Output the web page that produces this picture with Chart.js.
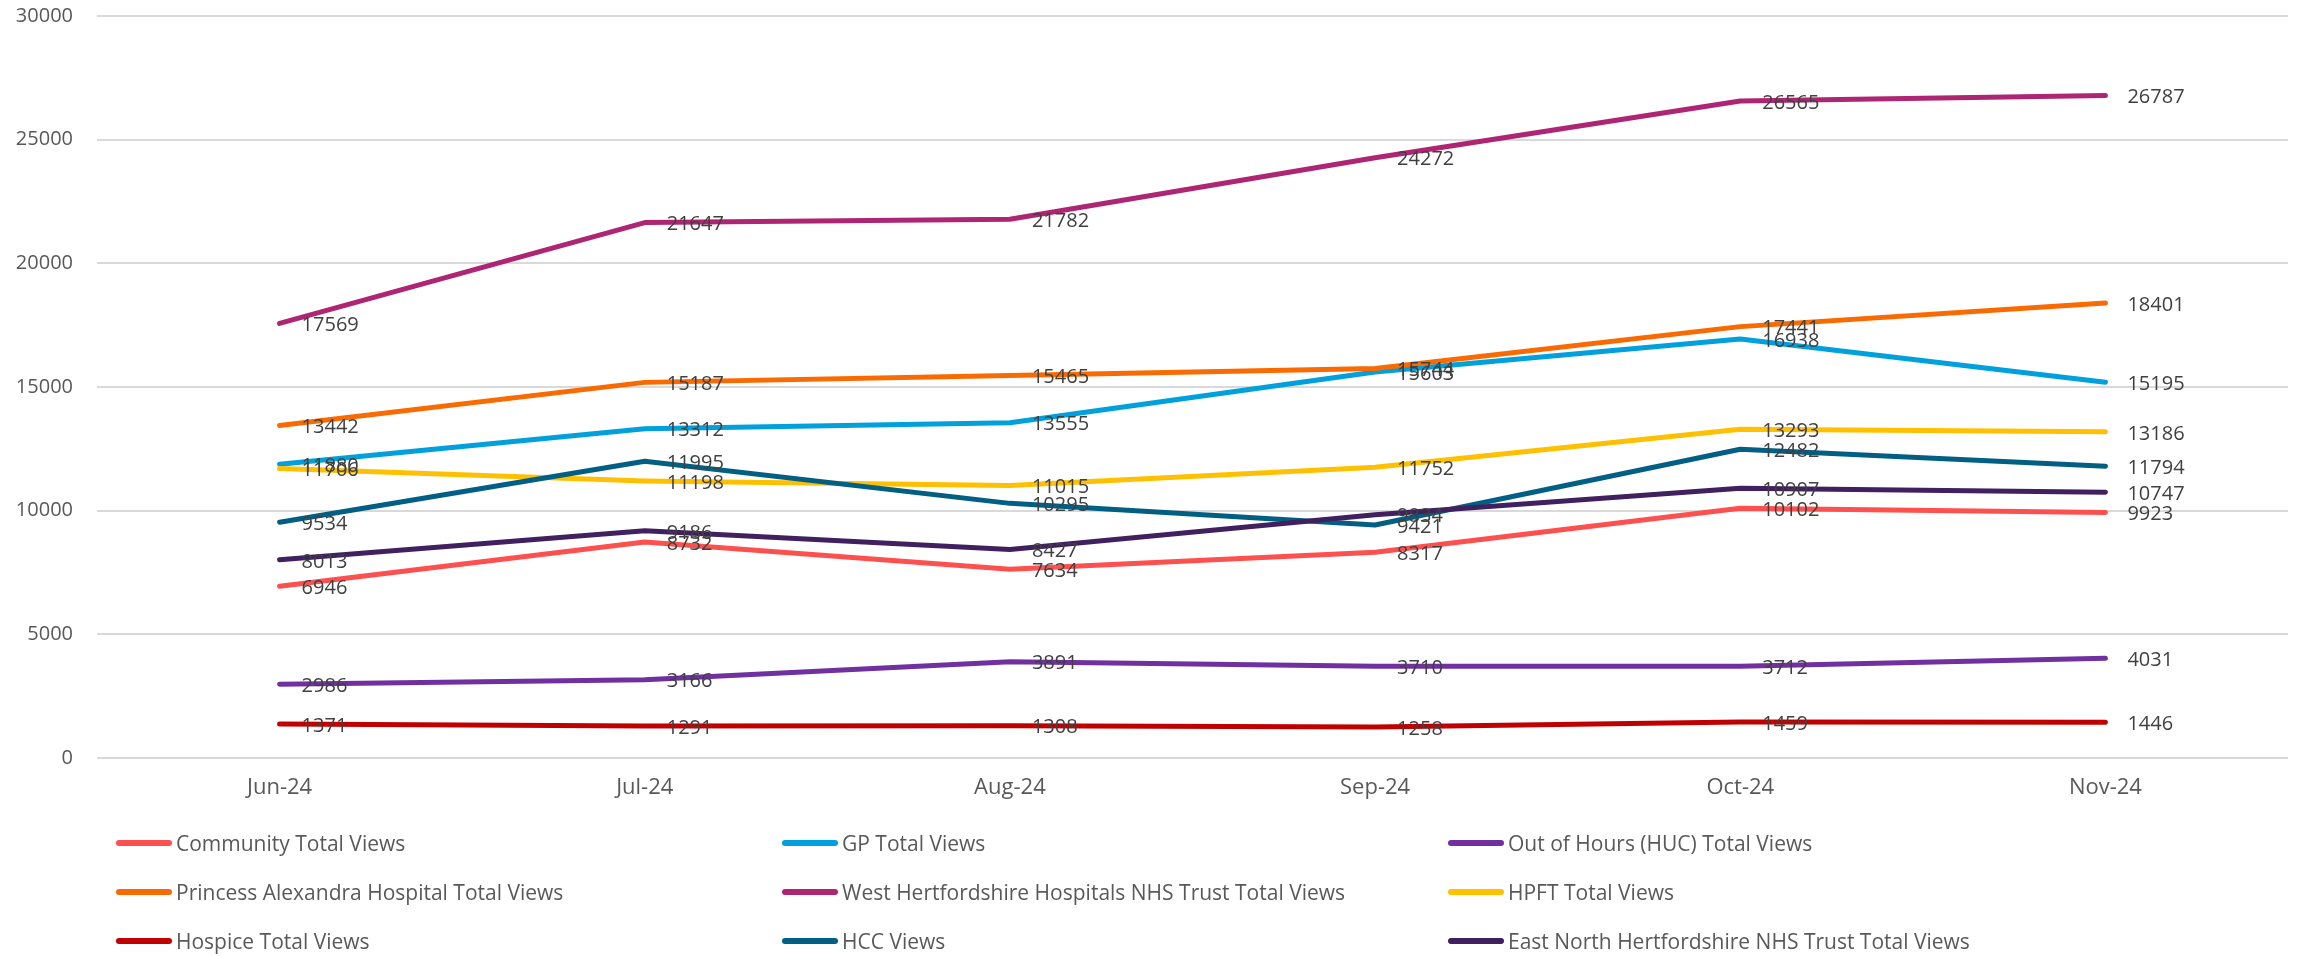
<!DOCTYPE html>
<html>
<head>
<meta charset="utf-8">
<script src="https://cdn.jsdelivr.net/npm/chart.js@4.4.1/dist/chart.umd.min.js"></script>
<style>
  html, body { margin: 0; padding: 0; background: #ffffff; }
  #wrap { position: relative; width: 2303px; height: 956px; overflow: hidden; }
  #c { position: absolute; left: 0; top: 0; }
  .lg { position: absolute; height: 30px; display: flex; align-items: center; font-family: "Open Sans", sans-serif; font-size: 21px; color: #595959; white-space: nowrap; }
  .lg .sw { width: 56px; height: 6px; border-radius: 3px; margin-right: 4px; }
</style>
</head>
<body>
<div id="wrap">
  <canvas id="c" width="2303" height="956"></canvas>
</div>
<script>
const months = ["Jun-24", "Jul-24", "Aug-24", "Sep-24", "Oct-24", "Nov-24"];

const communityViews   = [6946, 8732, 7634, 8317, 10102, 9923];
const gpViews          = [11880, 13312, 13555, 15603, 16938, 15195];
const outOfHoursViews  = [2986, 3166, 3891, 3710, 3712, 4031];
const princessAlexViews = [13442, 15187, 15465, 15744, 17441, 18401];
const westHertsViews   = [17569, 21647, 21782, 24272, 26565, 26787];
const hpftViews        = [11706, 11198, 11015, 11752, 13293, 13186];
const hospiceViews     = [1371, 1291, 1308, 1258, 1459, 1446];
const hccViews         = [9534, 11995, 10295, 9421, 12482, 11794];
const eastNorthViews   = [8013, 9186, 8427, 9834, 10907, 10747];

const seriesNames = [
  "Community Total Views",
  "GP Total Views",
  "Out of Hours (HUC) Total Views",
  "Princess Alexandra Hospital Total Views",
  "West Hertfordshire Hospitals NHS Trust Total Views",
  "HPFT Total Views",
  "Hospice Total Views",
  "HCC Views",
  "East North Hertfordshire NHS Trust Total Views"
];
const seriesValues = [communityViews, gpViews, outOfHoursViews, princessAlexViews, westHertsViews, hpftViews, hospiceViews, hccViews, eastNorthViews];
const seriesColors = ["#ff5050", "#00a0dc", "#7030a0", "#f96a00", "#ae2573", "#ffc000", "#c00000", "#005f83", "#41205f"];

const yTicks = { min: 0, max: 30000, step: 5000 };

const datasets = seriesNames.map((name, i) => ({
  label: name,
  data: seriesValues[i],
  borderColor: seriesColors[i],
  backgroundColor: seriesColors[i],
  borderWidth: 5,
  borderCapStyle: "round",
  borderJoinStyle: "round",
  pointRadius: 0,
  pointHoverRadius: 0,
  tension: 0,
  fill: false,
  order: seriesNames.length - i
}));

const labelPlugin = {
  id: "valueLabels",
  afterDatasetsDraw(chart) {
    const ctx = chart.ctx;
    ctx.save();
    ctx.font = '20px "Open Sans"';
    ctx.fillStyle = "#404040";
    ctx.textAlign = "left";
    ctx.textBaseline = "middle";
    chart.data.datasets.forEach((ds, i) => {
      const meta = chart.getDatasetMeta(i);
      meta.data.forEach((pt, j) => {
        ctx.fillText(String(ds.data[j]), pt.x + 22, pt.y + 2);
      });
    });
    ctx.restore();
  }
};

const chart = new Chart(document.getElementById("c"), {
  type: "line",
  data: { labels: months, datasets },
  plugins: [labelPlugin],
  options: {
    responsive: false,
    devicePixelRatio: 1,
    animation: false,
    layout: { autoPadding: false, padding: { left: 0, right: 15, top: 16, bottom: 138 } },
    plugins: { legend: { display: false }, tooltip: { enabled: false } },
    scales: {
      x: {
        offset: true,
        grid: { display: false, drawTicks: false },
        border: { display: false },
        ticks: { color: "#595959", font: { family: "Open Sans", size: 22 }, padding: 17, maxRotation: 0 },
        afterFit: (s) => { s.height = 60; }
      },
      y: {
        min: yTicks.min,
        max: yTicks.max,
        grid: { color: "#d9d9d9", lineWidth: 2, drawTicks: false },
        border: { display: false },
        ticks: { stepSize: yTicks.step, color: "#595959", font: { family: "Open Sans", size: 20 }, padding: 24, callback: (v) => String(v) },
        afterFit: (s) => { s.width = 97; s.paddingTop = 0; s.paddingBottom = 0; }
      }
    }
  }
});

// Legend (3 columns, row-major) built from the chart's datasets
const wrap = document.getElementById("wrap");
const colX = [116, 782, 1448];
const rowY = [843, 892, 941];
chart.data.datasets.forEach((ds, i) => {
  const d = document.createElement("div");
  d.className = "lg";
  d.style.left = colX[i % 3] + "px";
  d.style.top = (rowY[Math.floor(i / 3)] - 15) + "px";
  const sw = document.createElement("span");
  sw.className = "sw";
  sw.style.background = ds.borderColor;
  const t = document.createElement("span");
  t.textContent = ds.label;
  d.appendChild(sw);
  d.appendChild(t);
  wrap.appendChild(d);
});
</script>
</body>
</html>
